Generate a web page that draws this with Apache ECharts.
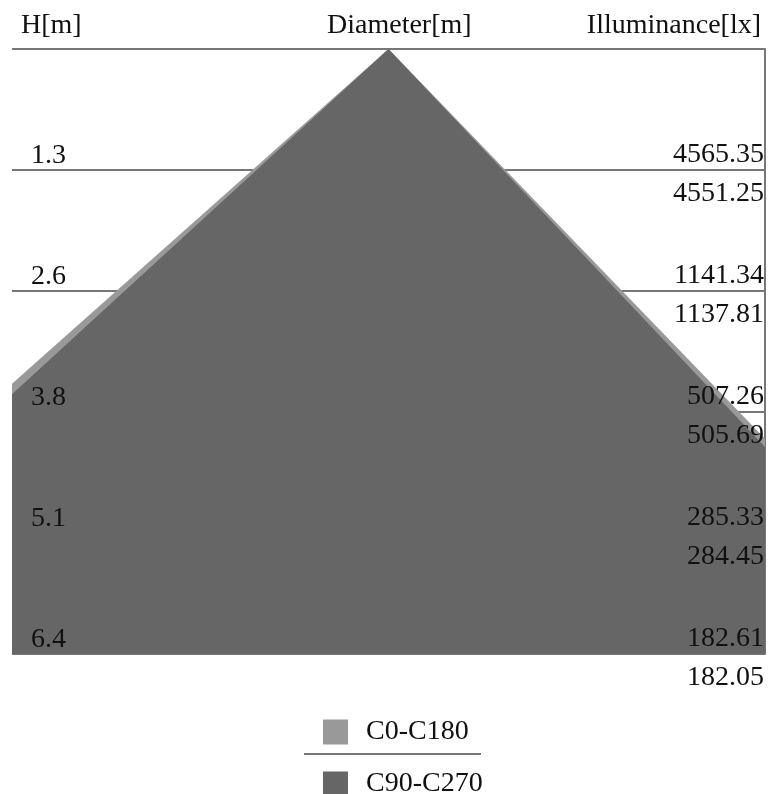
<!DOCTYPE html>
<html>
<head>
<meta charset="utf-8">
<script src="https://cdn.jsdelivr.net/npm/echarts@6/dist/echarts.min.js"></script>
<style>html,body{margin:0;padding:0;background:#fff;}#chart{width:770px;height:794px;}</style>
</head>
<body>
<div id="chart"></div>
<script>
// Heights of the measuring planes (m) and their printed labels
const heights = [0, 1.28, 2.56, 3.84, 5.12, 6.4];
const heightLabels = ['', '1.3', '2.6', '3.8', '5.1', '6.4'];
// Illuminance at each plane (lx)
const illumC0C180 = ['', '4565.35', '1141.34', '507.26', '285.33', '182.61'];
const illumC90C270 = ['', '4551.25', '1137.81', '505.69', '284.45', '182.05'];
// Cone outline [x offset (m), height (m)]: left edge at max height, apex, right edge at max height
const coneC0C180 = [[-7.23, 6.4], [0, 0], [6.21, 6.4]];
const coneC90C270 = [[-7.01, 6.4], [0, 0], [6.08, 6.4]];
const seriesNames = ['C0-C180', 'C90-C270'];

const FONT = 'Liberation Serif, Times New Roman, serif';
const FS = 28;
const hMin = heights[0], hMax = heights[heights.length - 1], hStep = heights[1] - heights[0];

function baseY(extra) {
  return Object.assign({
    type: 'value', inverse: true, min: hMin, max: hMax, interval: hStep,
    axisTick: {show: false}, axisLabel: {show: false}, splitLine: {show: false},
    axisLine: {show: false}
  }, extra);
}
const titleStyle = {fontFamily: FONT, fontSize: FS, fontWeight: 'normal', color: '#111'};
const legendBase = {
  orient: 'vertical', left: 323, itemWidth: 25, itemHeight: 25, padding: 0,
  icon: 'rect', selectedMode: false,
  textStyle: {fontFamily: FONT, fontSize: FS, color: '#111', padding: [0, 0, 0, 13]}
};
const txt = {fontFamily: FONT, fontSize: FS, color: '#111'};

const chart = echarts.init(document.getElementById('chart'), null, {renderer: 'canvas'});
chart.setOption({
  animation: false,
  backgroundColor: '#ffffff',
  title: [
    {text: 'H[m]', left: 16, top: 7, textStyle: titleStyle},
    {text: 'Diameter[m]', left: 322, top: 7, textStyle: titleStyle},
    {text: 'Illuminance[lx]', right: 4, top: 7, textStyle: titleStyle}
  ],
  grid: {left: 12, right: 5, top: 49, bottom: 140, containLabel: false},
  xAxis: {type: 'value', min: -4, max: 4, show: false},
  yAxis: [
    baseY({position: 'left', z: 0,
      axisLine: {show: true, lineStyle: {color: '#777', width: 2}},
      splitLine: {show: true, lineStyle: {color: '#777', width: 2}}}),
    baseY({position: 'right', z: 0,
      axisLine: {show: true, lineStyle: {color: '#777', width: 2}}}),
    baseY({position: 'left', z: 10, offset: 0,
      axisLabel: {show: true, inside: true, margin: 19, showMinLabel: true, showMaxLabel: true,
        verticalAlign: 'middle',
        rich: {a: Object.assign({lineHeight: 28}, txt), b: Object.assign({lineHeight: 28}, txt)},
        formatter: function (v, i) { return heightLabels[i] ? '{a|' + heightLabels[i] + '}\n{b| }' : ''; }}}),
    baseY({position: 'right', z: 10, offset: 0,
      axisLabel: {show: true, inside: true, margin: 1, showMinLabel: true, showMaxLabel: true,
        verticalAlign: 'middle', align: 'right',
        rich: {a: Object.assign({lineHeight: 48, align: 'right'}, txt), b: Object.assign({lineHeight: 30, align: 'right'}, txt)},
        formatter: function (v, i) { return illumC0C180[i] ? '{a|' + illumC0C180[i] + '}\n{b|' + illumC90C270[i] + '}' : ''; }}})
  ],
  legend: [
    Object.assign({top: 718, data: [seriesNames[0]]}, legendBase),
    Object.assign({top: 770, data: [seriesNames[1]]}, legendBase)
  ],
  graphic: [
    {type: 'line', shape: {x1: 304, y1: 754, x2: 481, y2: 754}, style: {stroke: '#777', lineWidth: 2}, z: 100}
  ],
  series: [
    {name: seriesNames[0], type: 'line', data: coneC0C180, yAxisIndex: 0, symbol: 'none', color: '#999999',
      lineStyle: {width: 0}, areaStyle: {color: '#999999', opacity: 1, origin: 'end'}, z: 2, clip: true},
    {name: seriesNames[1], type: 'line', data: coneC90C270, yAxisIndex: 0, symbol: 'none', color: '#666666',
      lineStyle: {width: 0}, areaStyle: {color: '#666666', opacity: 1, origin: 'end'}, z: 3, clip: true}
  ]
});
</script>
</body>
</html>
